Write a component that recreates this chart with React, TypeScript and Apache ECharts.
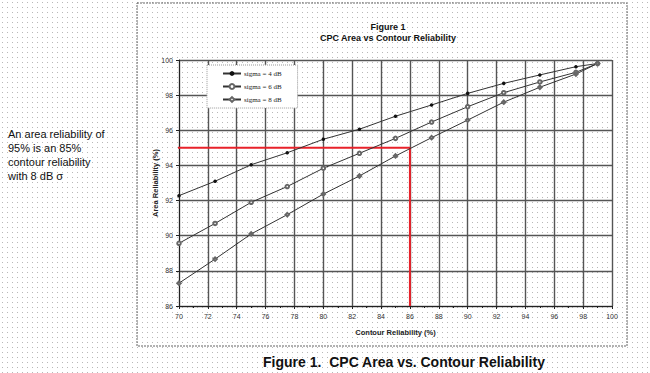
import React, { useEffect, useRef } from "react";
import * as echarts from "echarts";

const contour = [70, 72.5, 75, 77.5, 80, 82.5, 85, 87.5, 90, 92.5, 95, 97.5, 99];
const sigma4 = [92.28, 93.1, 94.04, 94.72, 95.49, 96.06, 96.8, 97.44, 98.1, 98.67, 99.15, 99.62, 99.8];
const sigma6 = [89.57, 90.7, 91.9, 92.8, 93.84, 94.69, 95.54, 96.47, 97.34, 98.14, 98.75, 99.3, 99.8];
const sigma8 = [87.3, 88.67, 90.1, 91.2, 92.37, 93.4, 94.54, 95.58, 96.58, 97.6, 98.45, 99.2, 99.8];
const seriesNames = ["sigma = 4 dB", "sigma = 6 dB", "sigma = 8 dB"];
const redPath: [number, number][] = [[64.5, 95], [86, 95], [86, 86]];
const annotation = ["An area reliability of", "95% is an 85%", "contour reliability", "with 8 dB σ"];

export default function App() {
  const ref = useRef<HTMLDivElement>(null);
  useEffect(() => {
    document.body.style.margin = "0";
    const chart = echarts.init(ref.current!, undefined, { renderer: "svg" });
    const mk = (ys: number[]) => contour.map((x, i) => [x, ys[i]]);
    chart.setOption({
      animation: false,
      backgroundColor: "transparent",
      textStyle: { fontFamily: "Liberation Sans, Arial, sans-serif" },
      title: [
        {
          text: "Figure 1",
          left: 383,
          top: 17,
          textAlign: "center",
          textStyle: { fontSize: 9, fontWeight: "bold", color: "#111" },
        },
        {
          text: "CPC Area vs Contour Reliability",
          left: 383,
          top: 28,
          textAlign: "center",
          textStyle: { fontSize: 9, fontWeight: "bold", color: "#111" },
        },
      ],
      grid: { left: 179, top: 60, right: 38, bottom: 67 },
      legend: {
        orient: "vertical",
        left: 207,
        top: 65,
        itemWidth: 18,
        itemHeight: 6,
        itemGap: 6,
        padding: [5, 16, 5, 15],
        backgroundColor: "#fff",
        borderColor: "#999",
        borderWidth: 1,
        borderType: "dotted",
        data: seriesNames,
        textStyle: { fontSize: 7, color: "#222", fontFamily: "Liberation Serif, serif", padding: [0, 0, 0, -2] },
      },
      xAxis: {
        type: "value",
        min: 70,
        max: 100,
        interval: 2,
        name: "Contour Reliability (%)",
        nameLocation: "middle",
        nameGap: 22,
        nameMoveOverlap: false,
        nameTextStyle: { fontSize: 7.5, fontWeight: "bold", color: "#222" },
        axisLine: { lineStyle: { color: "#222", width: 1 } },
        axisTick: { show: true, length: 3, lineStyle: { color: "#222" } },
        minorTick: { show: true, splitNumber: 2, length: 2, lineStyle: { color: "#222" } },
        axisLabel: { fontSize: 7, color: "#333", margin: 7 },
        splitLine: { show: true, lineStyle: { color: "#555", width: 1.4 } },
      },
      yAxis: {
        type: "value",
        min: 86,
        max: 100,
        interval: 2,
        name: "Area Reliability (%)",
        nameLocation: "middle",
        nameGap: 20,
        nameMoveOverlap: false,
        nameTextStyle: { fontSize: 7.5, fontWeight: "bold", color: "#222" },
        axisLine: { show: true, lineStyle: { color: "#222", width: 1 } },
        axisTick: { show: true, length: 3, lineStyle: { color: "#222" } },
        axisLabel: { fontSize: 7, color: "#333", margin: 6 },
        splitLine: { show: true, lineStyle: { color: "#555", width: 1.4 } },
      },
      series: [
        {
          name: seriesNames[0],
          type: "line",
          data: mk(sigma4),
          symbol: "circle",
          symbolSize: 3.5,
          lineStyle: { color: "#333", width: 1 },
          itemStyle: { color: "#111" },
          z: 5,
        },
        {
          name: seriesNames[1],
          type: "line",
          data: mk(sigma6),
          symbol: "emptyCircle",
          symbolSize: 3.5,
          lineStyle: { color: "#333", width: 1 },
          itemStyle: { color: "#666", borderWidth: 0.7 },
          z: 5,
        },
        {
          name: seriesNames[2],
          type: "line",
          data: mk(sigma8),
          symbol: "emptyDiamond",
          symbolSize: 3.5,
          lineStyle: { color: "#333", width: 1 },
          itemStyle: { color: "#666", borderWidth: 0.7 },
          z: 5,
        },
        {
          name: "red",
          type: "line",
          data: redPath,
          symbol: "none",
          clip: false,
          lineStyle: { color: "#e8222a", width: 2 },
          z: 4,
          silent: true,
        },
      ],
      graphic: [
        {
          type: "rect",
          shape: { x: 137, y: 3, width: 490, height: 343 },
          style: { fill: "none", stroke: "#666", lineWidth: 1, lineDash: [2, 1] },
          silent: true,
        },
        ...annotation.map((t, i) => ({
          type: "text",
          x: 8,
          y: 134 + i * 14,
          style: {
            text: t,
            fontSize: 11,
            fill: "#111",
            verticalAlign: "middle",
            fontFamily: "Liberation Sans, Arial, sans-serif",
          },
        })),
        {
          type: "text",
          x: 404,
          y: 362,
          style: {
            text: "Figure 1.  CPC Area vs. Contour Reliability",
            fontSize: 14,
            fontWeight: "bold",
            fill: "#111",
            align: "center",
            verticalAlign: "middle",
            fontFamily: "Liberation Sans, Arial, sans-serif",
          },
        },
      ],
    });
    return () => chart.dispose();
  }, []);
  return (
    <div
      ref={ref}
      style={{
        position: "absolute",
        left: 0,
        top: 0,
        width: 650,
        height: 373,
        backgroundColor: "#fff",
        backgroundImage: "radial-gradient(circle, #b8b8b8 0.7px, transparent 0.9px)",
        backgroundSize: "5px 5px",
      }}
    />
  );
}
